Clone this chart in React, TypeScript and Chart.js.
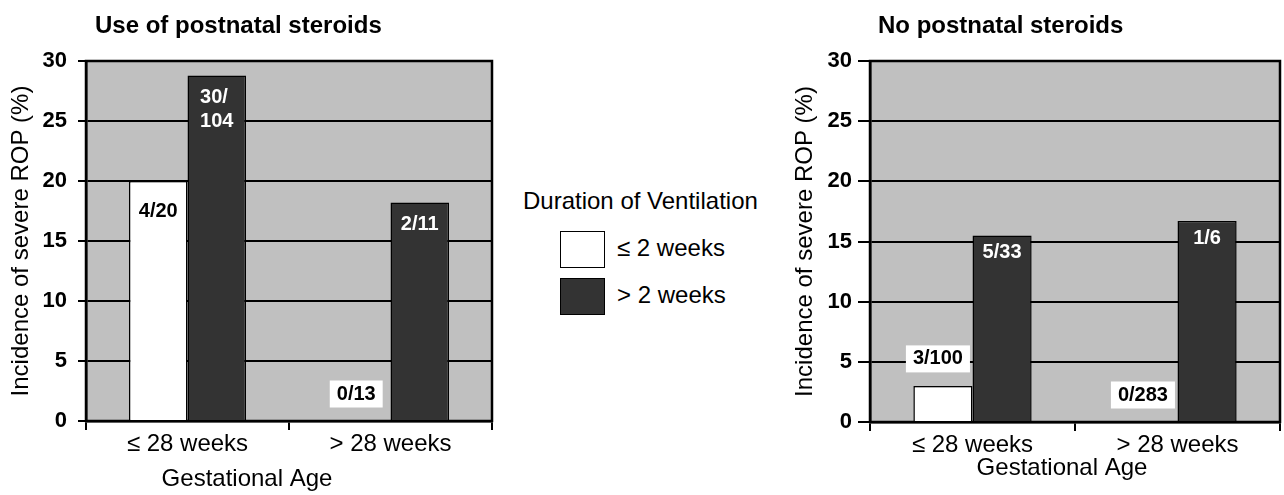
import React, { useEffect, useRef } from "react";
import { Chart, registerables } from "chart.js";

Chart.register(...registerables);

// ---------- data ----------
const categories = ["≤ 28 weeks", "> 28 weeks"];
const seriesNames = ["≤ 2 weeks", "> 2 weeks"];
const yTicks = [0, 5, 10, 15, 20, 25, 30];

const steroidShort = [20, 0];
const steroidLong = [28.8, 18.2];
const steroidShortLabels = ["4/20", "0/13"];
const steroidLongLabels = ["30/\n104", "2/11"];

const noSteroidShort = [3, 0];
const noSteroidLong = [15.5, 16.7];
const noSteroidShortLabels = ["3/100", "0/283"];
const noSteroidLongLabels = ["5/33", "1/6"];

const panelTitles = ["Use of postnatal steroids", "No postnatal steroids"];
const yAxisTitle = "Incidence of severe ROP (%)";
const xAxisTitle = "Gestational Age";
const legendTitle = "Duration of Ventilation";

// ---------- styles ----------
const FONT = "'Liberation Sans', Arial, Helvetica, sans-serif";
const SERIES_COLORS = ["#ffffff", "#333333"];
const LABEL_COLORS = ["#000000", "#ffffff"];
const PLOT_BG = "#c0c0c0";
const REG = 24;

const panelPlugin = {
  id: "panel",
  beforeDraw(chart: any) {
    const { ctx, chartArea: a } = chart;
    ctx.save();
    ctx.fillStyle = PLOT_BG;
    ctx.fillRect(a.left, a.top, a.right - a.left, a.bottom - a.top);
    ctx.restore();
  },
  beforeDatasetsDraw(chart: any) {
    const { ctx, chartArea: a } = chart;
    ctx.save();
    ctx.strokeStyle = "#000";
    ctx.lineWidth = 2.5;
    ctx.strokeRect(a.left, a.top, a.right - a.left, a.bottom - a.top);
    ctx.restore();
  },
  afterDatasetsDraw(chart: any) {
    const ctx = chart.ctx;
    chart.data.datasets.forEach((ds: any, i: number) => {
      const meta = chart.getDatasetMeta(i);
      meta.data.forEach((bar: any, j: number) => {
        const text = ds.valueLabels ? ds.valueLabels[j] : null;
        if (!text) return;
        const { x, y, base } = bar.getProps(["x", "y", "base"], true);
        const lines = String(text).split("\n");
        ctx.save();
        ctx.font = `bold 20px ${FONT}`;
        const w = Math.max(...lines.map((l: string) => ctx.measureText(l).width));
        const lh = 24;
        const inside = base - y > 40;
        let cy: number;
        let cx = x;
        if (inside) {
          cy = y + ds.labelInset;
        } else {
          cx = x - 5;
          cy = y - 27 - ((lines.length - 1) * lh) / 2;
          ctx.fillStyle = "#fff";
          ctx.fillRect(cx - w / 2 - 7, cy - 13.5, w + 14, 27 + (lines.length - 1) * lh);
        }
        ctx.fillStyle = inside ? ds.labelColor : "#000";
        ctx.textBaseline = "middle";
        ctx.textAlign = "left";
        lines.forEach((l: string, k: number) => ctx.fillText(l, cx - w / 2, cy + k * lh));
        ctx.restore();
      });
    });
  },
  afterDraw(chart: any, _a: any, o: any) {
    const ctx = chart.ctx;
    ctx.save();
    ctx.fillStyle = "#000";
    ctx.font = `bold 24px ${FONT}`;
    ctx.textAlign = "left";
    ctx.textBaseline = "alphabetic";
    ctx.fillText(o.title, o.titleX, o.titleY);
    ctx.font = `${REG}px ${FONT}`;
    ctx.textAlign = "center";
    ctx.textBaseline = "middle";
    ctx.fillText(o.xTitle, o.xTitleX, o.xTitleY);
    ctx.restore();
  },
};

type PanelProps = {
  short: number[];
  long: number[];
  shortLabels: string[];
  longLabels: string[];
  title: string;
  width: number;
  left: number;
  padRight: number;
  yWidth: number;
  xHeight: number;
  yTickLen: number;
  yTickPad: number;
  yTitlePad: number;
  darkInset: number;
  titleX: number;
  xTitleX: number;
  xTitleY: number;
};

function Panel(p: PanelProps) {
  const ref = useRef<HTMLCanvasElement | null>(null);
  useEffect(() => {
    if (!ref.current) return;
    const chart = new Chart(ref.current, {
      type: "bar",
      data: {
        labels: categories,
        datasets: [
          {
            label: seriesNames[0],
            data: p.short,
            backgroundColor: SERIES_COLORS[0],
            borderColor: "#000",
            borderWidth: 1.5,
            categoryPercentage: 0.577,
            barPercentage: 1,
            valueLabels: p.shortLabels,
            labelColor: LABEL_COLORS[0],
            labelInset: 30,
          } as any,
          {
            label: seriesNames[1],
            data: p.long,
            backgroundColor: SERIES_COLORS[1],
            borderColor: "#000",
            borderWidth: 1.5,
            categoryPercentage: 0.577,
            barPercentage: 1,
            valueLabels: p.longLabels,
            labelColor: LABEL_COLORS[1],
            labelInset: p.darkInset,
          } as any,
        ],
      },
      options: {
        responsive: false,
        animation: false,
        devicePixelRatio: 1,
        layout: { padding: { top: 61, right: p.padRight, left: 0, bottom: 0 } },
        plugins: {
          legend: { display: false },
          tooltip: { enabled: false },
          panel: {
            title: p.title,
            titleX: p.titleX,
            titleY: 33,
            xTitle: xAxisTitle,
            xTitleX: p.xTitleX,
            xTitleY: p.xTitleY,
          },
        } as any,
        scales: {
          x: {
            afterFit: (s: any) => {
              s.height = p.xHeight;
            },
            grid: {
              offset: true,
              drawOnChartArea: false,
              drawTicks: true,
              tickLength: 9,
              color: "#000",
              lineWidth: 2,
            },
            border: { color: "#000", width: 2.5 },
            ticks: {
              color: "#000",
              padding: 0,
              font: { family: FONT, size: REG },
            },
          },
          y: {
            min: 0,
            max: 30,
            afterBuildTicks: (s: any) => {
              s.ticks = yTicks.map((v) => ({ value: v }));
            },
            afterFit: (s: any) => {
              s.width = p.yWidth;
            },
            grid: {
              color: "#000",
              lineWidth: 2,
              drawTicks: true,
              tickLength: p.yTickLen,
            },
            border: { color: "#000", width: 2.5 },
            ticks: {
              color: "#000",
              padding: p.yTickPad,
              font: { family: FONT, size: 22, weight: "bold" },
            },
            title: {
              display: true,
              text: yAxisTitle,
              color: "#000",
              font: { family: FONT, size: REG },
              padding: { top: p.yTitlePad, bottom: 0 },
            },
          },
        },
      } as any,
      plugins: [panelPlugin as any],
    });
    return () => chart.destroy();
  }, []);
  return (
    <canvas
      ref={ref}
      width={p.width}
      height={495}
      style={{ position: "absolute", left: p.left, top: 0, width: p.width, height: 495, display: "block" }}
    />
  );
}

function Legend() {
  const txt: React.CSSProperties = {
    position: "absolute",
    fontFamily: FONT,
    fontSize: REG,
    lineHeight: "24px",
    color: "#000",
    whiteSpace: "nowrap",
  };
  const box: React.CSSProperties = {
    position: "absolute",
    left: 560,
    width: 45,
    height: 37,
    boxSizing: "border-box",
    border: "1.5px solid #000",
  };
  return (
    <>
      <div style={{ ...txt, left: 523, top: 189 }}>{legendTitle}</div>
      <div style={{ ...box, top: 231, background: SERIES_COLORS[0] }} />
      <div style={{ ...box, top: 278, background: SERIES_COLORS[1] }} />
      <div style={{ ...txt, left: 617, top: 236 }}>{seriesNames[0]}</div>
      <div style={{ ...txt, left: 617, top: 283 }}>{seriesNames[1]}</div>
    </>
  );
}

export default function App() {
  return (
    <div style={{ position: "absolute", left: 0, top: 0, width: 1284, height: 495, background: "#fff", overflow: "hidden" }}>
      <Panel
        short={steroidShort}
        long={steroidLong}
        shortLabels={steroidShortLabels}
        longLabels={steroidLongLabels}
        title={panelTitles[0]}
        width={510}
        left={0}
        padRight={18}
        yWidth={86}
        xHeight={74}
        yTickLen={8}
        yTickPad={11}
        yTitlePad={7}
        darkInset={22}
        titleX={95}
        xTitleX={247}
        xTitleY={479}
      />
      <Legend />
      <Panel
        short={noSteroidShort}
        long={noSteroidLong}
        shortLabels={noSteroidShortLabels}
        longLabels={noSteroidLongLabels}
        title={panelTitles[1]}
        width={504}
        left={780}
        padRight={4}
        yWidth={90}
        xHeight={73}
        yTickLen={12}
        yTickPad={6}
        yTitlePad={11}
        darkInset={17}
        titleX={98}
        xTitleX={282}
        xTitleY={468}
      />
    </div>
  );
}
